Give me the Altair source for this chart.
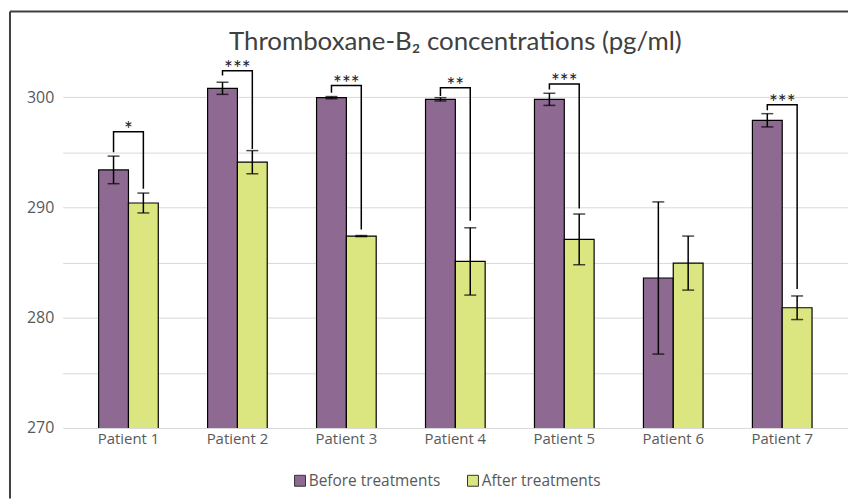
import altair as alt
import pandas as pd

patients = ["Patient 1", "Patient 2", "Patient 3", "Patient 4", "Patient 5", "Patient 6", "Patient 7"]
groups = ["Before treatments", "After treatments"]
before = [293.4, 300.8, 299.95, 299.8, 299.8, 283.6, 297.9]
before_err = [1.25, 0.55, 0.1, 0.15, 0.55, 6.9, 0.6]
after = [290.4, 294.1, 287.4, 285.1, 287.1, 284.95, 280.9]
after_err = [0.9, 1.05, 0.05, 3.05, 2.3, 2.45, 1.07]
bracket_top = [296.85, 302.4, 301.05, 300.85, 301.2, None, 299.3]
bracket_left = [295.0, 301.95, 300.4, 300.1, 300.7, None, 298.8]
bracket_right = [291.7, 295.3, 288.0, 288.8, 289.9, None, 282.6]
stars = ["*", "***", "***", "**", "***", "", "***"]

PURPLE = "#8E6A92"
GREEN = "#DCE680"
TFONT = "Lato"
FONT = "Open Sans"

rows = []
for i, p in enumerate(patients):
    rows.append(dict(patient=p, group=groups[0], value=before[i],
                     lo=before[i] - before_err[i], hi=before[i] + before_err[i]))
    rows.append(dict(patient=p, group=groups[1], value=after[i],
                     lo=after[i] - after_err[i], hi=after[i] + after_err[i]))
bars_df = pd.DataFrame(rows)

br_rows = []
st_rows = []
for i, p in enumerate(patients):
    if bracket_top[i] is None:
        continue
    br_rows += [
        dict(patient=p, group=groups[0], y=bracket_left[i], k=0),
        dict(patient=p, group=groups[0], y=bracket_top[i], k=1),
        dict(patient=p, group=groups[1], y=bracket_top[i], k=2),
        dict(patient=p, group=groups[1], y=bracket_right[i], k=3),
    ]
    st_rows.append(dict(patient=p, top=bracket_top[i], stars=stars[i]))
br_df = pd.DataFrame(br_rows)
st_df = pd.DataFrame(st_rows)

x_enc = alt.X("patient:N", sort=patients,
              scale=alt.Scale(domain=patients, paddingInner=0.4526, paddingOuter=0.33),
              axis=alt.Axis(title=None, labelAngle=0, ticks=False, domain=False, grid=False,
                            labelPadding=4, labelFontSize=15, labelColor="#595959", labelFont=FONT))
xo_enc = alt.XOffset("group:N", sort=groups,
                     scale=alt.Scale(domain=groups, paddingInner=0, paddingOuter=0))
y_scale = alt.Scale(domain=[270, 302], nice=False, zero=False)
y_axis = alt.Axis(title=None, values=list(range(270, 301, 5)),
                  labelExpr="datum.value % 10 == 0 ? datum.label : ''",
                  ticks=False, domain=False, grid=True, gridColor="#D9D9D9", gridWidth=1,
                  labelPadding=9, labelFontSize=16, labelColor="#595959", labelFont=FONT)

base = alt.Chart(bars_df)

bars = base.mark_bar(stroke="black", strokeWidth=1.2, clip=True).encode(
    x=x_enc, xOffset=xo_enc,
    y=alt.Y("value:Q", scale=y_scale, axis=y_axis),
    color=alt.Color("group:N", sort=groups,
                    scale=alt.Scale(domain=groups, range=[PURPLE, GREEN]),
                    legend=alt.Legend(title=None, orient="none", direction="horizontal",
                                      legendX=231, legendY=400, padding=0,
                                      symbolType="square", symbolSize=121,
                                      symbolStrokeColor="#333333", symbolStrokeWidth=1,
                                      symbolOpacity=1,
                                      labelFont=FONT, labelFontSize=15.5, labelColor="#595959",
                                      labelOffset=1, columnPadding=25)),
)

err = base.mark_rule(color="black", strokeWidth=1.5).encode(
    x=x_enc, xOffset=xo_enc,
    y=alt.Y("lo:Q", scale=y_scale, axis=y_axis), y2="hi:Q")
cap_hi = base.mark_tick(color="black", orient="horizontal", size=12, thickness=1.5).encode(
    x=x_enc, xOffset=xo_enc, y=alt.Y("hi:Q", scale=y_scale, axis=y_axis))
cap_lo = base.mark_tick(color="black", orient="horizontal", size=12, thickness=1.5).encode(
    x=x_enc, xOffset=xo_enc, y=alt.Y("lo:Q", scale=y_scale, axis=y_axis))

brackets = alt.Chart(br_df).mark_line(color="black", strokeWidth=1.5).encode(
    x=x_enc, xOffset=xo_enc,
    y=alt.Y("y:Q", scale=y_scale, axis=y_axis),
    detail="patient:N", order="k:Q")

star_text = alt.Chart(st_df).mark_text(font=TFONT, fontSize=21, baseline="alphabetic",
                                       dy=5, color="#222222").encode(
    x=x_enc, y=alt.Y("top:Q", scale=y_scale, axis=y_axis), text="stars:N")

frame_df = pd.DataFrame({"a": [0]})
frame_left = alt.Chart(frame_df).mark_rule(color="#404040", strokeWidth=2).encode(
    x=alt.value(-53), y=alt.value(-64), y2=alt.value(426))
frame_top = alt.Chart(frame_df).mark_rule(color="#404040", strokeWidth=2).encode(
    x=alt.value(-53), x2=alt.value(790), y=alt.value(-64))

chart = alt.layer(bars, err, cap_hi, cap_lo, brackets, star_text, frame_left, frame_top).properties(
    width=790, height=355,
    autosize=alt.AutoSizeParams(type="none"),
    padding={"left": 55, "top": 66, "right": 0, "bottom": 71},
    background="white",
    title=alt.Title("Thromboxane-B₂ concentrations (pg/ml)", font=TFONT, fontSize=26,
                    fontWeight="normal", color="#404040", anchor="middle",
                    baseline="alphabetic", offset=-66),
).configure_view(strokeWidth=0)

chart.save("out.html", embed_options={"renderer": "svg", "actions": False})
